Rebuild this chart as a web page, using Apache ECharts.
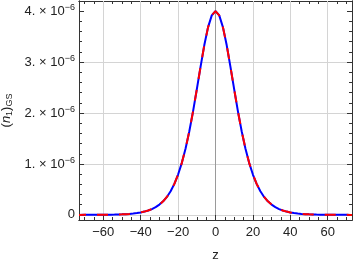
<!DOCTYPE html>
<html>
<head>
<meta charset="utf-8">
<script src="https://cdn.jsdelivr.net/npm/echarts@6/dist/echarts.min.js"></script>
<style>html,body{margin:0;padding:0;background:#fff}#c{width:354px;height:265px}</style>
</head>
<body>
<div id="c"></div>
<script>
// z positions and density values (in units of 1e-6)
const zValues = [-73,-72,-70,-68,-66,-64,-62,-60,-58,-56,-54,-52,-50,-48,-46,-44,-42,-40,-38,-36,-34,-32,-30,-28,-26,-24,-22,-20,-18,-16,-14,-12,-10,-8,-6,-4,-2,0,2,4,6,8,10,12,14,16,18,20,22,24,26,28,30,32,34,36,38,40,42,44,46,48,50,52,54,56,58,60,62,64,66,68,70,72,73];
const nValues = [0.000,0.000,0.001,0.001,0.001,0.002,0.002,0.003,0.004,0.005,0.006,0.009,0.011,0.015,0.020,0.027,0.036,0.049,0.065,0.087,0.114,0.152,0.202,0.267,0.353,0.465,0.609,0.792,1.022,1.305,1.643,2.033,2.464,2.908,3.330,3.682,3.917,4.000,3.917,3.682,3.330,2.908,2.464,2.033,1.643,1.305,1.022,0.792,0.609,0.465,0.353,0.267,0.202,0.152,0.114,0.087,0.065,0.049,0.036,0.027,0.020,0.015,0.011,0.009,0.006,0.005,0.004,0.003,0.002,0.002,0.001,0.001,0.001,0.000,0.000];
const xMajorTicks = [-60,-40,-20,0,20,40,60];
const xMinorTicks = [-70,-65,-55,-50,-45,-35,-30,-25,-15,-10,-5,5,10,15,25,30,35,45,50,55,65,70];
const yMajorTicks = [0,1,2,3,4];
const yMinorTicks = [0.2,0.4,0.6,0.8,1.2,1.4,1.6,1.8,2.2,2.4,2.6,2.8,3.2,3.4,3.6,3.8,4.0,4.2];
const yLabelExp = '−6';
const xName = 'z';

const FONT = 'Liberation Sans';
const frame = '#333';
const xMin = -73, xMax = 73, yMin = -0.1, yMax = 4.2;

const pts = zValues.map((z, i) => [z, nValues[i]]);

function xAxisDef(pos, ticks, len, labels) {
  return {
    type: 'value', position: pos, min: xMin, max: xMax,
    axisLine: {show: true, onZero: false, lineStyle: {color: frame, width: 1}},
    axisTick: {show: true, inside: true, length: len, customValues: ticks, lineStyle: {color: frame}},
    axisLabel: labels ? {show: true, customValues: ticks, fontFamily: FONT, fontSize: 13, color: '#222', margin: 6,
      formatter: v => (v < 0 ? '−' + Math.abs(v) : String(v))} : {show: false},
    splitLine: {show: false}
  };
}
function yAxisDef(pos, ticks, len, labels) {
  return {
    type: 'value', position: pos, min: yMin, max: yMax,
    axisLine: {show: true, onZero: false, lineStyle: {color: frame, width: 1}},
    axisTick: {show: true, inside: true, length: len, customValues: ticks, lineStyle: {color: frame}},
    axisLabel: labels ? {show: true, customValues: ticks, fontFamily: FONT, fontSize: 13, color: '#222', margin: 4,
      formatter: v => v === 0 ? '{a|0}' : '{a|' + v + '. × 10}{s|' + yLabelExp + '}',
      rich: {a: {fontFamily: FONT, fontSize: 13, color: '#222'}, s: {fontFamily: FONT, fontSize: 9, color: '#222', padding: [0,0,7,0], verticalAlign: 'bottom'}}} : {show: false},
    splitLine: {show: false}
  };
}

const xMain = xAxisDef('bottom', xMajorTicks, 5, true);
xMain.splitLine = {show: true, lineStyle: {color: ['#d4d4d4','#d4d4d4','#d4d4d4','#9a9a9a','#d4d4d4','#d4d4d4','#d4d4d4'], width: 1}};
xMain.name = xName; xMain.nameLocation = 'middle'; xMain.nameGap = 29;
xMain.nameTextStyle = {fontFamily: FONT, fontSize: 13, color: '#222'};
xMain.z = 1;

const yMain = yAxisDef('left', yMajorTicks, 5, true);
yMain.splitLine = {show: true, lineStyle: {color: ['#d4d4d4','#d4d4d4','#d4d4d4','#d4d4d4','rgba(0,0,0,0)'], width: 1}};
yMain.name = '{p|(}{i|n}{sub|1}{p|)}{sub|GS}';
yMain.nameLocation = 'middle'; yMain.nameGap = 62; yMain.nameRotate = 90;
yMain.nameTextStyle = {rich: {
  p: {fontFamily: FONT, fontSize: 13, color: '#222'},
  i: {fontFamily: FONT, fontSize: 13, fontStyle: 'italic', color: '#222'},
  sub: {fontFamily: FONT, fontSize: 9, color: '#222', padding: [5,0,0,0], verticalAlign: 'top'}
}};

const chart = echarts.init(document.getElementById('c'), null, {renderer: 'canvas'});
chart.setOption({
  animation: false,
  backgroundColor: '#fff',
  grid: {left: 79, right: 2, top: 1, bottom: 45, outerBoundsMode: 'none', containLabel: false},
  xAxis: [xMain, xAxisDef('bottom', xMinorTicks, 3, false), xAxisDef('top', xMajorTicks, 5, false), xAxisDef('top', xMinorTicks, 3, false)],
  yAxis: [yMain, yAxisDef('left', yMinorTicks, 3, false), yAxisDef('right', yMajorTicks, 5, false), yAxisDef('right', yMinorTicks, 3, false)],
  series: [
    {type: 'line', data: pts, xAxisIndex: 0, yAxisIndex: 0, showSymbol: false, symbol: 'none',
     lineStyle: {color: '#0000ff', width: 2}, z: 3, clip: true},
    {type: 'line', data: pts, xAxisIndex: 0, yAxisIndex: 0, showSymbol: false, symbol: 'none',
     lineStyle: {color: '#ff0000', width: 2, type: [11, 11], dashOffset: 4}, z: 4, clip: true}
  ]
});
</script>
</body>
</html>
